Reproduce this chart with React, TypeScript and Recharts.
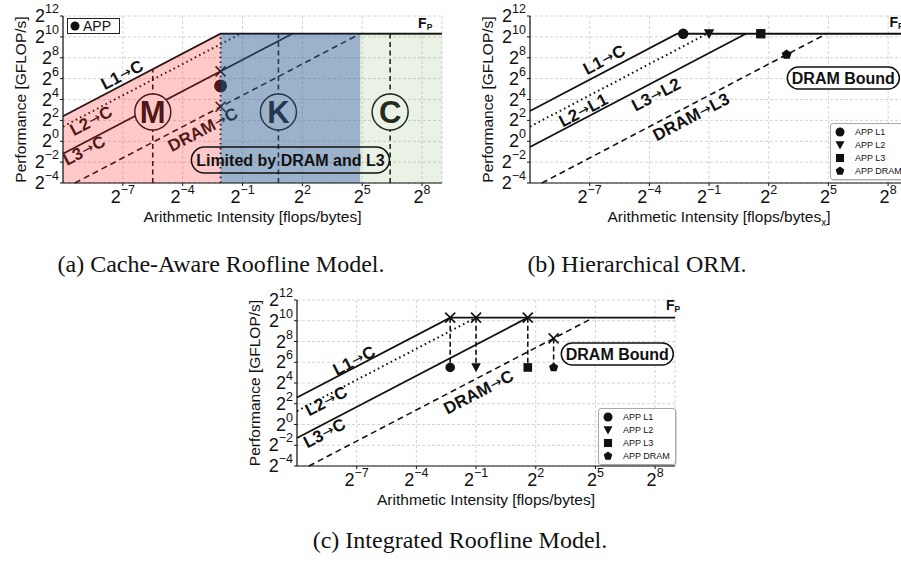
import React from 'react'
import { ComposedChart, Line, Area, Scatter, XAxis, YAxis, CartesianGrid, Legend } from 'recharts'

const SANS = '"Liberation Sans", Arial, Helvetica, sans-serif'
const SERIF = '"Liberation Serif", "Times New Roman", serif'
const INK = '#111'

// every value is a log2 exponent: ai = log2(flops/byte), perf = log2(GFLOP/s)
const X_DOMAIN: [number, number] = [-10, 9]
const Y_DOMAIN: [number, number] = [-4, 12]
const X_TICKS = [-7, -4, -1, 2, 5, 8]
const Y_TICKS = [-4, -2, 0, 2, 4, 6, 8, 10, 12]

const APP_NAMES = ['APP L1', 'APP L2', 'APP L3', 'APP DRAM']
const APP_KINDS = ['circle', 'triangle', 'square', 'pentagon']

// (a) cache-aware roofline
const A_L1 = [{ ai: -10, perf: 2.4 }, { ai: -2.1, perf: 10.3 }, { ai: 9, perf: 10.3 }]
const A_L2 = [{ ai: -10, perf: 1.4 }, { ai: -1.1, perf: 10.3 }]
const A_L3 = [{ ai: -10, perf: -1.2 }, { ai: 1.5, perf: 10.3 }]
const A_DRAM = [{ ai: -9.4, perf: -4 }, { ai: 4.9, perf: 10.3 }]
const A_APP_LINE = [{ ai: -2.1, perf: -4 }, { ai: -2.1, perf: 10.3 }]
const A_MEMORY = [{ ai: -10, perf: 2.4 }, { ai: -2.1, perf: 10.3 }]
const A_CACHE = [{ ai: -2.1, perf: 10.3 }, { ai: 4.9, perf: 10.3 }]
const A_COMPUTE = [{ ai: 4.9, perf: 10.3 }, { ai: 9, perf: 10.3 }]
const A_ZONES = [
  { ai: -5.5, top: 6.9, perf: 2.8, letter: 'M' },
  { ai: 0.8, top: 10.3, perf: 2.8, letter: 'K' },
  { ai: 6.4, top: 10.3, perf: 2.8, letter: 'C' },
]
const A_APP = [{ ai: -2.1, perf: 5.3 }]
const A_HITS = [{ ai: -2.1, perf: 6.7 }, { ai: -2.1, perf: 3.3 }]
const A_ROUTES = [
  { ai: -7.05, perf: 6.4, from: 'L1', to: 'C' },
  { ai: -8.6, perf: 2.0, from: 'L2', to: 'C' },
  { ai: -8.95, perf: -0.85, from: 'L3', to: 'C' },
  { ai: -3.0, perf: 1.15, from: 'DRAM', to: 'C' },
]
const A_NOTE = [{ ai: 1.4, perf: -1.8, text: 'Limited by DRAM and L3' }]
const A_PEAK = [{ ai: 7.8, perf: 10.85 }]

// (b) hierarchical ORM
const B_L1 = [{ ai: -10, perf: 2.9 }, { ai: -2.6, perf: 10.3 }, { ai: 9, perf: 10.3 }]
const B_L2 = [{ ai: -10, perf: 1.4 }, { ai: -1.1, perf: 10.3 }]
const B_L3 = [{ ai: -10, perf: -0.55 }, { ai: 0.85, perf: 10.3 }]
const B_DRAM = [{ ai: -9.4, perf: -4 }, { ai: 4.9, perf: 10.3 }]
const B_APPS = [
  { ai: -2.3, perf: 10.3 },
  { ai: -1.0, perf: 10.3 },
  { ai: 1.6, perf: 10.3 },
  { ai: 2.9, perf: 8.3 },
]
const B_ROUTES = [
  { ai: -6.28, perf: 7.85, from: 'L1', to: 'C' },
  { ai: -7.33, perf: 3.0, from: 'L2', to: 'L1' },
  { ai: -3.67, perf: 4.5, from: 'L3', to: 'L2' },
  { ai: -1.91, perf: 2.36, from: 'DRAM', to: 'L3' },
]
const B_NOTE = [{ ai: 5.75, perf: 6.06, text: 'DRAM Bound' }]
const B_PEAK = [{ ai: 8.07, perf: 10.95 }]

// (c) integrated roofline
const C_L1 = [{ ai: -10, perf: 2.6 }, { ai: -2.3, perf: 10.3 }, { ai: 9, perf: 10.3 }]
const C_L2 = [{ ai: -10, perf: 1.3 }, { ai: -1.0, perf: 10.3 }]
const C_L3 = [{ ai: -10, perf: -1.3 }, { ai: 1.6, perf: 10.3 }]
const C_DRAM = [{ ai: -9.4, perf: -4 }, { ai: 4.9, perf: 10.3 }]
const C_HITS = [
  { ai: -2.3, perf: 10.3 },
  { ai: -1.0, perf: 10.3 },
  { ai: 1.6, perf: 10.3 },
  { ai: 2.9, perf: 8.3 },
]
const C_APPS = [
  { ai: -2.3, perf: 5.5 },
  { ai: -1.0, perf: 5.5 },
  { ai: 1.6, perf: 5.5 },
  { ai: 2.9, perf: 5.5 },
]
const C_ROUTES = [
  { ai: -7.14, perf: 6.2, from: 'L1', to: 'C' },
  { ai: -8.54, perf: 2.3, from: 'L2', to: 'C' },
  { ai: -8.63, perf: -0.8, from: 'L3', to: 'C' },
  { ai: -0.88, perf: 3.16, from: 'DRAM', to: 'C' },
]
const C_NOTE = [{ ai: 6.1, perf: 6.8, text: 'DRAM Bound' }]
const C_PEAK = [{ ai: 8.55, perf: 11.0 }]

const Y_AXIS_W = 55
const X_AXIS_H = 30
const PANEL_A = { x: 0, y: 0, width: 450, height: 235, margin: { top: 16, right: 8, bottom: 22, left: 8 } }
const PANEL_B = { x: 450, y: 0, width: 470, height: 235, margin: { top: 16, right: 12, bottom: 22, left: 25 } }
const PANEL_C = { x: 215, y: 284, width: 470, height: 235, margin: { top: 16, right: 10, bottom: 23, left: 27 } }

// slope-1 lines on screen, in degrees
function slopeAngle(p: any) {
  const w = p.width - p.margin.left - p.margin.right - Y_AXIS_W
  const h = p.height - p.margin.top - p.margin.bottom - X_AXIS_H
  const dx = X_DOMAIN[1] - X_DOMAIN[0]
  const dy = Y_DOMAIN[1] - Y_DOMAIN[0]
  return (Math.atan(h / dy / (w / dx)) * 180) / Math.PI
}

const expText = (v: number) => (v < 0 ? `\u2212${-v}` : `${v}`)

const XTick = (p: any) => (
  <text x={p.x} y={p.y + 15} textAnchor="middle" fontFamily={SANS} fill={INK}>
    <tspan fontSize={18}>2</tspan>
    <tspan fontSize={12.5} dy={-9}>{expText(p.payload.value)}</tspan>
  </text>
)

const YTick = (p: any) => (
  <text x={p.x + 1} y={p.y + 6} textAnchor="end" fontFamily={SANS} fill={INK}>
    <tspan fontSize={18}>2</tspan>
    <tspan fontSize={12.5} dy={-9}>{expText(p.payload.value)}</tspan>
  </text>
)

function marker(kind: string, cx: number, cy: number, r: number) {
  if (kind === 'circle') return <circle cx={cx} cy={cy} r={r} fill={INK} />
  if (kind === 'triangle')
    return <polygon points={`${cx - r},${cy - r * 0.85} ${cx + r},${cy - r * 0.85} ${cx},${cy + r}`} fill={INK} />
  if (kind === 'square') return <rect x={cx - r * 0.9} y={cy - r * 0.9} width={r * 1.8} height={r * 1.8} fill={INK} />
  const pts = [0, 1, 2, 3, 4]
    .map((i) => {
      const a = ((-90 + 72 * i) * Math.PI) / 180
      return `${cx + r * Math.cos(a)},${cy + r * Math.sin(a)}`
    })
    .join(' ')
  return <polygon points={pts} fill={INK} />
}

const markShape = (kind: string, r: number) => (p: any) => marker(kind, p.cx, p.cy, r)

const crossShape = (s: number) => (p: any) => (
  <g stroke={INK} strokeWidth={1.6}>
    <line x1={p.cx - s} y1={p.cy - s} x2={p.cx + s} y2={p.cy + s} />
    <line x1={p.cx - s} y1={p.cy + s} x2={p.cx + s} y2={p.cy - s} />
  </g>
)

const routeShape = (angle: number) => (p: any) => (
  <text
    x={p.cx}
    y={p.cy}
    dy="0.36em"
    transform={`rotate(${-angle} ${p.cx} ${p.cy})`}
    textAnchor="middle"
    fontFamily={SANS}
    fontWeight="bold"
    fontSize={17}
    fill={INK}
  >
    {p.payload.from}
    <tspan fontFamily='"DejaVu Sans", sans-serif' fontSize={14} fontWeight="normal" dx={0.5} dy={-1}>→</tspan>
    <tspan dx={0.5} dy={1}>{p.payload.to}</tspan>
  </text>
)

const zoneShape = (r: number) => (p: any) => (
  <g>
    <circle cx={p.cx} cy={p.cy} r={r} fill="#fff" stroke={INK} strokeWidth={1.5} />
    <text x={p.cx} y={p.cy} dy="0.36em" textAnchor="middle" fontFamily={SANS} fontWeight="bold" fontSize={31} fill={INK}>
      {p.payload.letter}
    </text>
  </g>
)

const noteShape = (w: number, h: number, fill: string) => (p: any) => (
  <g>
    <rect x={p.cx - w / 2} y={p.cy - h / 2} width={w} height={h} rx={h / 2} fill={fill} stroke={INK} strokeWidth={1.5} />
    <text x={p.cx} y={p.cy} dy="0.36em" textAnchor="middle" fontFamily={SANS} fontWeight="bold" fontSize={16} fill={INK}>
      {p.payload.text}
    </text>
  </g>
)

const peakShape = (p: any) => (
  <text x={p.cx} y={p.cy} fontFamily={SANS} fontWeight="bold" fontSize={14} fill={INK}>
    F<tspan fontSize={8.5} dy={2}>P</tspan>
  </text>
)

function AppKey({ names, kinds }: { names: string[]; kinds: string[] }) {
  return (
    <div
      style={{
        width: 76,
        padding: '1px 0 2px',
        background: '#fff',
        border: '1px solid #a8a8a8',
        borderRadius: 3,
        boxShadow: '1px 1px 1px rgba(0,0,0,0.15)',
        fontFamily: SANS,
        fontSize: 9,
        color: INK,
      }}
    >
      {names.map((n, i) => (
        <div key={n} style={{ display: 'flex', alignItems: 'center', height: 13 }}>
          <svg width={18} height={12} style={{ marginLeft: 2 }}>
            {marker(kinds[i], 7, 6, 4.5)}
          </svg>
          <span style={{ marginLeft: 4 }}>{n}</span>
        </div>
      ))}
    </div>
  )
}

function SingleKey() {
  return (
    <div
      style={{
        width: 51,
        height: 14,
        background: '#fff',
        border: '1px solid #222',
        display: 'flex',
        alignItems: 'center',
        fontFamily: SANS,
        fontSize: 14,
        color: INK,
      }}
    >
      <svg width={13} height={14}>
        <circle cx={7} cy={7} r={4.5} fill={INK} />
      </svg>
      <span style={{ marginLeft: 2, lineHeight: '14px' }}>APP</span>
    </div>
  )
}

function Frame({ panel, xTitle, children }: any) {
  const { width, height, margin } = panel
  const left = margin.left + Y_AXIS_W
  const right = width - margin.right
  const top = margin.top
  const bottom = height - margin.bottom - X_AXIS_H
  const yx = left - 43
  const yy = (top + bottom) / 2
  return (
    <div style={{ position: 'absolute', left: panel.x, top: panel.y, width, height }}>
      <ComposedChart width={width} height={height} margin={margin}>
        <CartesianGrid stroke="#c9c9c9" strokeDasharray="3 2" strokeWidth={0.8} />
        <XAxis
          type="number"
          dataKey="ai"
          domain={X_DOMAIN}
          ticks={X_TICKS}
          interval={0}
          height={X_AXIS_H}
          tick={XTick}
          tickSize={3}
          tickMargin={2}
          tickLine={{ stroke: INK }}
          axisLine={{ stroke: INK, strokeWidth: 1.2 }}
          zIndex={900}
          label={{
            content: () => (
              <text x={(left + right) / 2} y={bottom + 39} textAnchor="middle" fontFamily={SANS} fontSize={15.5} fill={INK}>
                {xTitle}
              </text>
            ),
          }}
        />
        <YAxis
          type="number"
          dataKey="perf"
          domain={Y_DOMAIN}
          ticks={Y_TICKS}
          interval={0}
          width={Y_AXIS_W}
          tick={YTick}
          tickSize={3}
          tickMargin={2}
          tickLine={{ stroke: INK }}
          axisLine={{ stroke: INK, strokeWidth: 1.2 }}
          zIndex={900}
          label={{
            content: () => (
              <text
                x={yx}
                y={yy}
                transform={`rotate(-90 ${yx} ${yy})`}
                textAnchor="middle"
                dominantBaseline="central"
                fontFamily={SANS}
                fontSize={15.5}
                fill={INK}
              >
                Performance [GFLOP/s]
              </text>
            ),
          }}
        />
        {children}
      </ComposedChart>
    </div>
  )
}

const solid = { stroke: INK, strokeWidth: 1.8 }
const dotted = { stroke: INK, strokeWidth: 2, strokeDasharray: '1.6 3.2' }
const dashed = { stroke: INK, strokeWidth: 1.6, strokeDasharray: '6 4' }
const lineBase = { type: 'linear' as const, dataKey: 'perf', dot: false, activeDot: false, isAnimationActive: false, legendType: 'none' as const, zIndex: 400 }

export default function App() {
  const angA = slopeAngle(PANEL_A)
  const angB = slopeAngle(PANEL_B)
  const angC = slopeAngle(PANEL_C)
  const caption = { position: 'absolute' as const, textAlign: 'center' as const, fontFamily: SERIF, fontSize: 24, color: INK, lineHeight: '28px', whiteSpace: 'nowrap' as const }

  return (
    <div style={{ position: 'fixed', left: 0, top: 0, width: 901, height: 562, overflow: 'hidden', background: '#fff' }}>
      {/* (a) cache-aware roofline */}
      <Frame panel={PANEL_A} xTitle="Arithmetic Intensity [flops/bytes]">
        <Line {...lineBase} data={A_L1} {...solid} />
        <Line {...lineBase} data={A_L2} {...dotted} />
        <Line {...lineBase} data={A_L3} {...solid} />
        <Line {...lineBase} data={A_DRAM} {...dashed} />
        <Line {...lineBase} data={A_APP_LINE} {...dotted} />
        {A_ZONES.map((z) => (
          <Line key={z.letter} {...lineBase} data={[{ ai: z.ai, perf: Y_DOMAIN[0] }, { ai: z.ai, perf: z.top }]} {...dashed} strokeDasharray="5 3.5" />
        ))}
        <Scatter data={A_ZONES} dataKey="perf" shape={zoneShape(18)} isAnimationActive={false} legendType="none" zIndex={600} />
        <Scatter data={A_ROUTES} dataKey="perf" shape={routeShape(angA)} isAnimationActive={false} legendType="none" zIndex={600} />
        <Scatter data={A_APP} dataKey="perf" shape={markShape('circle', 6.5)} isAnimationActive={false} legendType="none" zIndex={600} />
        <Scatter data={A_HITS} dataKey="perf" shape={crossShape(5)} isAnimationActive={false} legendType="none" zIndex={600} />
        <Area data={A_MEMORY} dataKey="perf" type="linear" baseValue="dataMin" stroke="none" fill="#ff2e2e" fillOpacity={0.26} isAnimationActive={false} activeDot={false} legendType="none" zIndex={700} />
        <Area data={A_CACHE} dataKey="perf" type="linear" baseValue="dataMin" stroke="none" fill="#356293" fillOpacity={0.49} isAnimationActive={false} activeDot={false} legendType="none" zIndex={700} />
        <Area data={A_COMPUTE} dataKey="perf" type="linear" baseValue="dataMin" stroke="none" fill="#7daf64" fillOpacity={0.16} isAnimationActive={false} activeDot={false} legendType="none" zIndex={700} />
        <Scatter data={A_NOTE} dataKey="perf" shape={noteShape(198, 26, 'none')} isAnimationActive={false} legendType="none" zIndex={800} />
        <Scatter data={A_PEAK} dataKey="perf" shape={peakShape} isAnimationActive={false} legendType="none" zIndex={800} />
        <Legend layout="vertical" align="center" verticalAlign="middle" wrapperStyle={{ left: 67, top: 18, width: 'auto' }} content={() => <SingleKey />} />
      </Frame>

      {/* (b) hierarchical ORM */}
      <Frame
        panel={PANEL_B}
        xTitle={
          <>
            Arithmetic Intensity [flops/bytes
            <tspan fontSize={10} dy={4}>x</tspan>
            <tspan dy={-4}>]</tspan>
          </>
        }
      >
        <Line {...lineBase} data={B_L1} {...solid} />
        <Line {...lineBase} data={B_L2} {...dotted} />
        <Line {...lineBase} data={B_L3} {...solid} />
        <Line {...lineBase} data={B_DRAM} {...dashed} />
        <Scatter data={B_ROUTES} dataKey="perf" shape={routeShape(angB)} isAnimationActive={false} legendType="none" zIndex={600} />
        {APP_KINDS.map((k, i) => (
          <Scatter key={k} data={[B_APPS[i]]} dataKey="perf" shape={markShape(k, 5.2)} isAnimationActive={false} legendType="none" zIndex={600} />
        ))}
        <Scatter data={B_NOTE} dataKey="perf" shape={noteShape(112, 22, '#fff')} isAnimationActive={false} legendType="none" zIndex={800} />
        <Scatter data={B_PEAK} dataKey="perf" shape={peakShape} isAnimationActive={false} legendType="none" zIndex={800} />
        <Legend layout="vertical" align="center" verticalAlign="middle" wrapperStyle={{ left: 380, top: 123, width: 'auto' }} content={() => <AppKey names={APP_NAMES} kinds={APP_KINDS} />} />
      </Frame>

      {/* (c) integrated roofline */}
      <Frame panel={PANEL_C} xTitle="Arithmetic Intensity [flops/bytes]">
        <Line {...lineBase} data={C_L1} {...solid} />
        <Line {...lineBase} data={C_L2} {...dotted} />
        <Line {...lineBase} data={C_L3} {...solid} />
        <Line {...lineBase} data={C_DRAM} {...dashed} />
        {C_HITS.map((h, i) => (
          <Line key={`drop-${i}`} {...lineBase} data={[h, C_APPS[i]]} {...dashed} strokeDasharray="5 3" />
        ))}
        <Scatter data={C_ROUTES} dataKey="perf" shape={routeShape(angC)} isAnimationActive={false} legendType="none" zIndex={600} />
        <Scatter data={C_HITS} dataKey="perf" shape={crossShape(5)} isAnimationActive={false} legendType="none" zIndex={600} />
        {APP_KINDS.map((k, i) => (
          <Scatter key={k} data={[C_APPS[i]]} dataKey="perf" shape={markShape(k, 4.8)} isAnimationActive={false} legendType="none" zIndex={600} />
        ))}
        <Scatter data={C_NOTE} dataKey="perf" shape={noteShape(112, 22, '#fff')} isAnimationActive={false} legendType="none" zIndex={800} />
        <Scatter data={C_PEAK} dataKey="perf" shape={peakShape} isAnimationActive={false} legendType="none" zIndex={800} />
        <Legend layout="vertical" align="center" verticalAlign="middle" wrapperStyle={{ left: 383, top: 124, width: 'auto' }} content={() => <AppKey names={APP_NAMES} kinds={APP_KINDS} />} />
      </Frame>

      <div style={{ ...caption, left: 21, width: 400, top: 250 }}>(a) Cache-Aware Roofline Model.</div>
      <div style={{ ...caption, left: 487, width: 300, top: 250 }}>(b) Hierarchical ORM.</div>
      <div style={{ ...caption, left: 310, width: 300, top: 526 }}>(c) Integrated Roofline Model.</div>
    </div>
  )
}
